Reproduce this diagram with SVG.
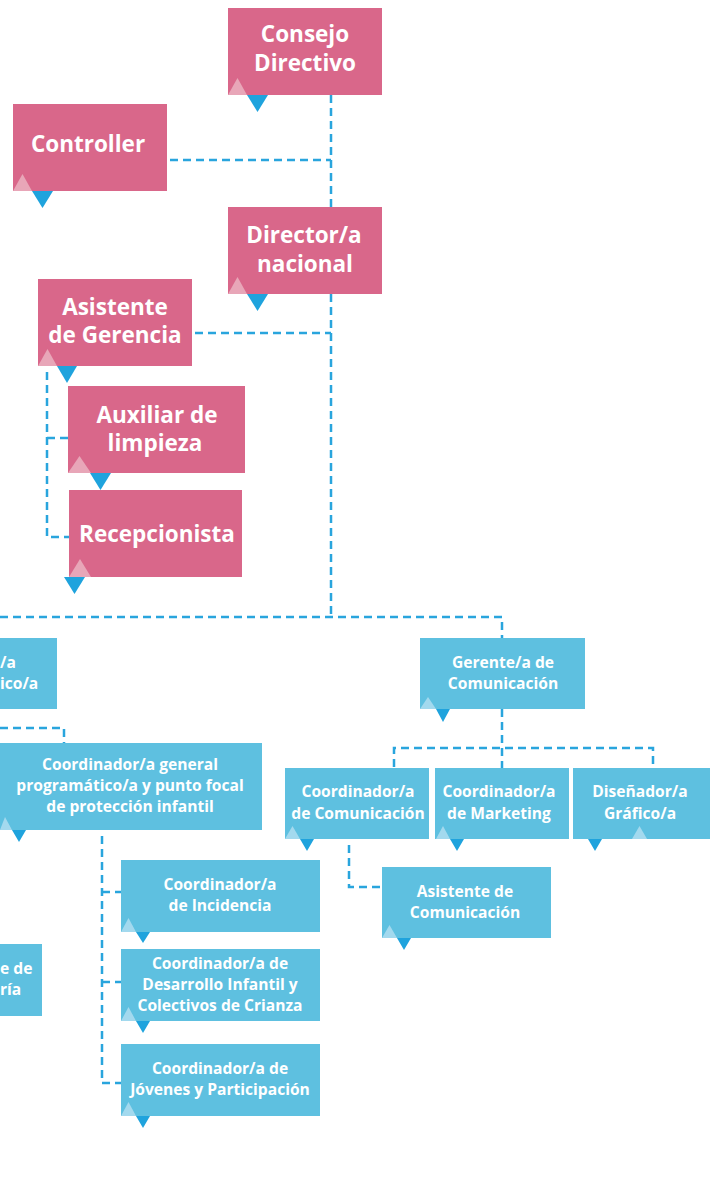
<svg xmlns="http://www.w3.org/2000/svg" width="716" height="1203" viewBox="0 0 716 1203">
<style>
.pk{fill:#d9678a}
.bl{fill:#5ec0e0}
.lp{fill:#e8a6b8}
.lb{fill:#a3d9ee}
.db{fill:#1fa3dd}
.tp{font-family:"Open Sans","Liberation Sans",sans-serif;font-weight:700;font-size:22.5px;fill:#fff;text-anchor:middle}
.tb{font-family:"Open Sans","Liberation Sans",sans-serif;font-weight:700;font-size:15.6px;fill:#fff;text-anchor:middle}
.tbs{font-family:"Open Sans","Liberation Sans",sans-serif;font-weight:700;font-size:15.6px;fill:#fff;text-anchor:start}
.cn{fill:none;stroke:#29a5dd;stroke-width:2.5;stroke-dasharray:8 5}
</style>
<rect width="716" height="1203" fill="#fff"/>
<g id="connectors">
<path class="cn" d="M331,95 V207"/>
<path class="cn" d="M170,160 H331"/>
<path class="cn" d="M331,294 V619"/>
<path class="cn" d="M195,333 H331"/>
<path class="cn" d="M47,372 V537 H69"/>
<path class="cn" d="M47,438 H68"/>
<path class="cn" d="M0,617 H502 V638"/>
<path class="cn" d="M0,728 H64 V743"/>
<path class="cn" d="M102,836 V1083 H121"/>
<path class="cn" d="M102,892 H121"/>
<path class="cn" d="M102,982 H121"/>
<path class="cn" d="M502,709 V768"/>
<path class="cn" d="M394,767 V748 H653 V767"/>
<path class="cn" d="M349,845 V887 H382"/>
</g>
<g id="consejo">
<rect class="pk" x="228" y="8" width="154" height="87"/>
<polygon class="lp" points="228,95 247,95 237.5,78"/>
<polygon class="db" points="247,95 268,95 257.5,112"/>
<text class="tp" x="305" y="42">Consejo</text>
<text class="tp" x="305" y="71">Directivo</text>
</g>
<g id="controller">
<rect class="pk" x="13" y="104" width="154" height="87"/>
<polygon class="lp" points="13,191 32,191 22.5,174"/>
<polygon class="db" points="32,191 53,191 42.5,208"/>
<text class="tp" x="88" y="152">Controller</text>
</g>
<g id="director">
<rect class="pk" x="228" y="207" width="154" height="87"/>
<polygon class="lp" points="228,294 247,294 237.5,277"/>
<polygon class="db" points="247,294 268,294 257.5,311"/>
<text class="tp" x="304" y="243">Director/a</text>
<text class="tp" x="305" y="272">nacional</text>
</g>
<g id="asistente-gerencia">
<rect class="pk" x="38" y="279" width="154" height="87"/>
<polygon class="lp" points="38,366 57,366 47.5,349"/>
<polygon class="db" points="57,366 77,366 67,383"/>
<text class="tp" x="115" y="315">Asistente</text>
<text class="tp" x="115" y="343">de Gerencia</text>
</g>
<g id="auxiliar">
<rect class="pk" x="68" y="386" width="177" height="87"/>
<polygon class="lp" points="68,473 91,473 79.5,456"/>
<polygon class="db" points="90,473 111,473 100.5,490"/>
<text class="tp" x="157" y="423">Auxiliar de</text>
<text class="tp" x="155" y="451">limpieza</text>
</g>
<g id="recepcionista">
<rect class="pk" x="69" y="490" width="173" height="87"/>
<polygon class="lp" points="69,577 91,577 80,559"/>
<polygon class="db" points="64,577 85,577 74.5,594"/>
<text class="tp" x="157" y="542">Recepcionista</text>
</g>
<g id="gerente-programatico">
<rect class="bl" x="-10" y="638" width="67" height="71"/>
<text class="tbs" x="0" y="668">/a</text>
<text class="tbs" x="0" y="689">ico/a</text>
</g>
<g id="coordinador-general">
<rect class="bl" x="-10" y="743" width="272" height="87"/>
<polygon class="lb" points="0,830 12,830 5,817"/>
<polygon class="db" points="12,830 26,830 19,842"/>
<text class="tb" x="130" y="770">Coordinador/a general</text>
<text class="tb" x="130" y="791">programático/a y punto focal</text>
<text class="tb" x="130" y="812">de protección infantil</text>
</g>
<g id="caja-izquierda">
<rect class="bl" x="-10" y="944" width="52" height="72"/>
<text class="tbs" x="0" y="974">e de</text>
<text class="tbs" x="0" y="995">ría</text>
</g>
<g id="incidencia">
<rect class="bl" x="121" y="860" width="199" height="72"/>
<polygon class="lb" points="121,932 136,932 128.5,918"/>
<polygon class="db" points="136,932 150,932 143,943"/>
<text class="tb" x="220" y="890">Coordinador/a</text>
<text class="tb" x="220" y="911">de Incidencia</text>
</g>
<g id="desarrollo">
<rect class="bl" x="121" y="949" width="199" height="72"/>
<polygon class="lb" points="121,1021 136,1021 128.5,1007"/>
<polygon class="db" points="136,1021 150,1021 143,1033"/>
<text class="tb" x="220" y="969">Coordinador/a de</text>
<text class="tb" x="220" y="990">Desarrollo Infantil y</text>
<text class="tb" x="220" y="1011">Colectivos de Crianza</text>
</g>
<g id="jovenes">
<rect class="bl" x="121" y="1044" width="199" height="72"/>
<polygon class="lb" points="121,1116 136,1116 128.5,1102"/>
<polygon class="db" points="136,1116 150,1116 143,1128"/>
<text class="tb" x="220" y="1074">Coordinador/a de</text>
<text class="tb" x="220" y="1095">Jóvenes y Participación</text>
</g>
<g id="gerente-comunicacion">
<rect class="bl" x="420" y="638" width="165" height="71"/>
<polygon class="lb" points="420,709 436,709 428,697"/>
<polygon class="db" points="436,709 450,709 443,722"/>
<text class="tb" x="503" y="668">Gerente/a de</text>
<text class="tb" x="503" y="689">Comunicación</text>
</g>
<g id="coord-comunicacion">
<rect class="bl" x="285" y="768" width="144" height="71"/>
<polygon class="lb" points="285,839 300,839 292.5,826"/>
<polygon class="db" points="300,839 314,839 307,851"/>
<text class="tb" x="358" y="797">Coordinador/a</text>
<text class="tb" x="358" y="819">de Comunicación</text>
</g>
<g id="coord-marketing">
<rect class="bl" x="435" y="768" width="134" height="71"/>
<polygon class="lb" points="436,839 450,839 443,826"/>
<polygon class="db" points="450,839 464,839 457,851"/>
<text class="tb" x="499" y="797">Coordinador/a</text>
<text class="tb" x="499" y="819">de Marketing</text>
</g>
<g id="disenador">
<rect class="bl" x="573" y="768" width="137" height="71"/>
<polygon class="lb" points="632,839 647,839 639.5,826"/>
<polygon class="db" points="588,839 602,839 595,851"/>
<text class="tb" x="640" y="797">Diseñador/a</text>
<text class="tb" x="640" y="819">Gráfico/a</text>
</g>
<g id="asistente-comunicacion">
<rect class="bl" x="382" y="867" width="169" height="71"/>
<polygon class="lb" points="382,938 397,938 389.5,925"/>
<polygon class="db" points="397,938 411,938 404,950"/>
<text class="tb" x="465" y="897">Asistente de</text>
<text class="tb" x="465" y="918">Comunicación</text>
</g>
</svg>
